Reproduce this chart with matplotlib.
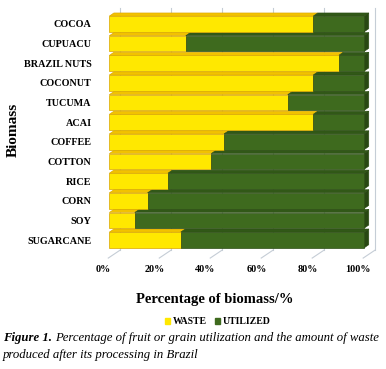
import matplotlib.pyplot as plt
from matplotlib.patches import Polygon
import numpy as np

# data (top to bottom as in the figure)
biomass = ["COCOA", "CUPUACU", "BRAZIL NUTS", "COCONUT", "TUCUMA", "ACAI",
           "COFFEE", "COTTON", "RICE", "CORN", "SOY", "SUGARCANE"]
waste = [80, 30, 90, 80, 70, 80, 45, 40, 23, 15, 10, 28]
utilized = [20, 70, 10, 20, 30, 20, 55, 60, 77, 85, 90, 72]
xticks = [0, 20, 40, 60, 80, 100]
xticklabels = ["0%", "20%", "40%", "60%", "80%", "100%"]

plt.rcParams["font.family"] = ["Liberation Serif", "DejaVu Serif"]

# colours
c_waste = "#FFE800"
c_waste_top = "#F2C200"
c_waste_edge = "#D9A400"
c_util = "#3E6A1E"
c_util_top = "#315817"
c_util_side = "#284812"
c_util_edge = "#2C4D14"
c_wall = "#C5CDD6"

W, H = 386, 369
fig = plt.figure(figsize=(W / 100, H / 100), dpi=100)

# axes placed so that 0..100 % spans the bars' front face
xlim = (-1, 106)
ylim = (-1, 12)
px_x = 2.58
px_y = 19.64
left = 106 - px_x * (0 - xlim[0])
right = 106 + px_x * (xlim[1])
bottom = 129 - px_y * (0 - ylim[0])
top = 129 + px_y * ylim[1]
ax = fig.add_axes([left / W, bottom / H, (right - left) / W, (top - bottom) / H])
ax.set_xlim(*xlim)
ax.set_ylim(*ylim)
for s in ax.spines.values():
    s.set_visible(False)

n = len(biomass)
ypos = np.arange(n)[::-1]
h = 0.4          # half bar height
dx, dy = 1.8, 0.16  # bar depth
DX = 4.2         # wall depth
floor_front, floor_back = -0.92, -0.52

# back wall gridlines + floor diagonals
for v in xticks:
    ax.plot([v + DX, v + DX], [floor_back, 11.8], color=c_wall, lw=0.8, zorder=0)
    ax.plot([v - 0.4, v + DX], [floor_front, floor_back], color=c_wall, lw=0.8, zorder=0)

# bars
for y, w, u in zip(ypos, waste, utilized):
    segs = [(0, w, c_waste, c_waste_top, c_waste_edge),
            (w, w + u, c_util, c_util_top, c_util_edge)]
    for x0, x1, cf, ct, ce in segs:
        if x1 - x0 <= 0:
            continue
        ax.add_patch(Polygon([(x0, y + h), (x1, y + h), (x1 + dx, y + h + dy), (x0 + dx, y + h + dy)],
                             closed=True, fc=ct, ec=ce, lw=0.4, zorder=2))
        ax.barh(y, x1 - x0, left=x0, height=2 * h, color=cf, edgecolor=ce, lw=0.5, zorder=3)
    end = w + u
    ax.add_patch(Polygon([(end, y - h), (end, y + h), (end + dx, y + h + dy), (end + dx, y - h + dy)],
                         closed=True, fc=c_util_side, ec=c_util_edge, lw=0.4, zorder=2))

ax.set_yticks(ypos)
ax.set_yticklabels(biomass, fontsize=7.3, fontweight="bold")
ax.set_xticks(np.array(xticks) - 2.3)
ax.set_xticklabels(xticklabels, fontsize=7.3, fontweight="bold")
ax.tick_params(axis="y", length=0, pad=8.5)
ax.tick_params(axis="x", length=0, pad=4)

fig.text(13 / W, 1 - 130 / H, "Biomass", rotation=90, ha="center", va="center",
         fontsize=11, fontweight="bold")
fig.text(215 / W, 1 - 299 / H, "Percentage of biomass/%", ha="center", va="center",
         fontsize=10.5, fontweight="bold")

handles = [plt.Rectangle((0, 0), 1, 1, color=c_waste), plt.Rectangle((0, 0), 1, 1, color=c_util)]
fig.legend(handles, ["WASTE", "UTILIZED"], loc="center", bbox_to_anchor=(218 / W, 1 - 322 / H),
           ncol=2, frameon=False, prop={"size": 7, "weight": "bold"},
           handlelength=0.5, handleheight=0.5, handletextpad=0.3, columnspacing=0.8)

# caption: bold italic label followed by italic text
cap_size = 9.2
t1 = fig.text(3 / W, 1 - 338 / H, "Figure 1.", fontsize=cap_size, va="center",
              style="italic", fontweight="bold")
fig.canvas.draw()
bb = t1.get_window_extent()
fig.text((bb.x1 + 3) / W, 1 - 338 / H,
         "Percentage of fruit or grain utilization and the amount of waste",
         fontsize=cap_size, va="center", style="italic")
fig.text(3 / W, 1 - 355 / H, "produced after its processing in Brazil",
         fontsize=cap_size, va="center", style="italic")

fig.savefig("out.png", dpi=100)
